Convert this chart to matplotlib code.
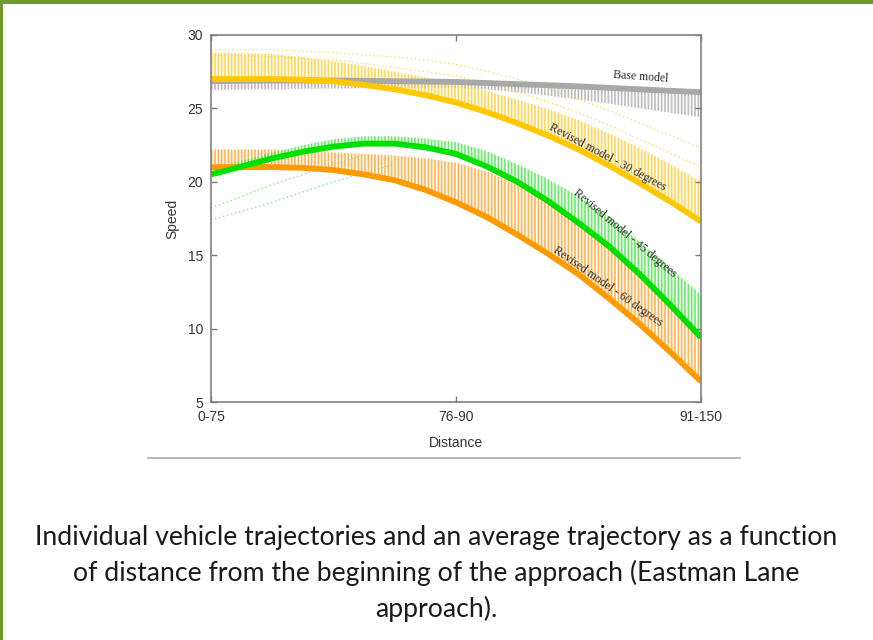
import numpy as np
import matplotlib
matplotlib.use('Agg')
import matplotlib.pyplot as plt
from matplotlib.lines import Line2D
from matplotlib.patches import Rectangle

# distance classes on the x axis and sample positions along them
dist_labels = ['0-75', '76-90', '91-150']
xs = np.array([0, 0.125, 0.25, 0.375, 0.5, 0.625, 0.75, 0.875, 1.0,
               1.125, 1.25, 1.375, 1.5, 1.625, 1.75, 1.875, 2.0])

# average trajectories (speed)
base_mean = np.array([26.85, 26.88, 26.9, 26.9, 26.9, 26.88, 26.85, 26.83, 26.8,
                      26.73, 26.65, 26.58, 26.5, 26.4, 26.3, 26.2, 26.1])
deg30_mean = np.array([27.0, 27.0, 27.0, 26.95, 26.85, 26.6, 26.3, 25.9, 25.4,
                       24.75, 24.0, 23.15, 22.2, 21.1, 19.9, 18.65, 17.3])
deg45_mean = np.array([20.5, 21.05, 21.6, 22.05, 22.4, 22.6, 22.6, 22.35, 21.9,
                       21.05, 20.0, 18.7, 17.2, 15.6, 13.7, 11.6, 9.4])
deg60_mean = np.array([21.0, 21.0, 21.0, 20.95, 20.8, 20.5, 20.1, 19.45, 18.6,
                       17.6, 16.4, 15.1, 13.7, 12.05, 10.3, 8.4, 6.4])

# spread of the individual trajectories (other edge of each band)
base_edge = np.array([26.25, 26.28, 26.3, 26.33, 26.35, 26.38, 26.4, 26.4, 26.4,
                      26.28, 26.1, 25.87, 25.6, 25.32, 25.0, 24.7, 24.4])
deg30_edge = np.array([28.8, 28.75, 28.7, 28.5, 28.2, 27.9, 27.5, 27.1, 26.7,
                       26.2, 25.6, 24.95, 24.2, 23.3, 22.3, 21.2, 20.0])
deg45_edge = np.array([20.9, 21.45, 22.0, 22.5, 22.9, 23.1, 23.1, 22.95, 22.7,
                       22.1, 21.2, 20.2, 19.0, 17.6, 15.9, 14.1, 12.3])
deg60_edge = np.array([22.2, 22.2, 22.2, 22.1, 22.0, 21.9, 21.8, 21.6, 21.3,
                       20.7, 19.8, 18.7, 17.4, 15.7, 13.9, 11.9, 9.8])

# a few stray single trajectories (dotted); nan where they sink into a band
nan = np.nan
deg30_out1 = np.array([29.0, 29.0, 29.0, 28.9, 28.8, 28.65, 28.5, 28.3, 28.0,
                       27.55, 27.0, 26.35, 25.6, 24.85, 24.0, 23.15, 22.3])
deg30_out2 = np.array([28.6, 28.6, 28.5, 28.4, 28.3, 28.05, 27.8, 27.5, 27.2,
                       26.7, 26.1, 25.45, 24.7, 23.85, 22.9, 21.95, 21.0])
deg45_out1 = np.array([17.4, 18.0, 18.6, 19.3, 20.0, 20.6, 21.2, nan, nan,
                       nan, nan, nan, nan, nan, nan, nan, nan])
deg45_out2 = np.array([18.2, 19.0, 19.8, 20.5, 21.2, 21.8, nan, nan, nan,
                       nan, nan, nan, nan, nan, nan, nan, nan])

series = [
    ('Base model', base_mean, base_edge, '#a8a8a8', '#b0b0b0'),
    ('Revised model - 30 degrees', deg30_mean, deg30_edge, '#ffc800', '#ffcf3a'),
    ('Revised model - 60 degrees', deg60_mean, deg60_edge, '#ff9a00', '#ffa733'),
    ('Revised model - 45 degrees', deg45_mean, deg45_edge, '#00e000', '#4ee84e'),
]

plt.rcParams['hatch.linewidth'] = 1.2
plt.rcParams['font.family'] = ['Liberation Sans', 'DejaVu Sans']

fig = plt.figure(figsize=(8.73, 6.4), dpi=100)
ax = fig.add_axes([211 / 873, 1 - 402 / 640, 490 / 873, 367 / 640])

for name, mean, edge, col, hcol in series:
    ax.fill_between(xs, mean, edge, facecolor='none', edgecolor=hcol,
                    hatch='|||||', linewidth=0, alpha=0.85)

for out, col in [(deg30_out1, '#ffd24a'), (deg30_out2, '#ffd24a'),
                 (deg45_out1, '#66e866'), (deg45_out2, '#66e866')]:
    ax.plot(xs, out, color=col, lw=1.0, ls=(0, (1, 2)), alpha=0.8)

for name, mean, edge, col, hcol in series:
    ax.plot(xs, mean, color=col, lw=4.2, solid_capstyle='butt',
            solid_joinstyle='round')

lab_kw = dict(family='Liberation Serif', fontsize=8.5, color='#2a2a2a',
              ha='center', va='center', rotation_mode='anchor')
ax.text(1.755, 27.15, 'Base model', rotation=-4, **lab_kw)
ax.text(1.62, 21.7, 'Revised model - 30 degrees', rotation=-28, **lab_kw)
ax.text(1.69, 16.5, 'Revised model - 45 degrees', rotation=-40, **lab_kw)
ax.text(1.62, 12.9, 'Revised model - 60 degrees', rotation=-35, **lab_kw)

ax.set_xlim(0, 2)
ax.set_ylim(5, 30)
ax.set_xticks([0, 1, 2])
ax.set_xticklabels(dist_labels)
ax.set_yticks([5, 10, 15, 20, 25, 30])
ax.tick_params(direction='in', length=4, width=1, color='#777777',
               labelsize=10, labelcolor='#333333', top=True, right=True)
ax.tick_params(axis='y', pad=5.8)
ax.tick_params(axis='x', pad=6)
for sp in ax.spines.values():
    sp.set_color('#808080')
    sp.set_linewidth(1.2)

ax.set_xlabel('Distance', fontsize=10, color='#333333')
ax.xaxis.set_label_coords(0.5, -0.112)
ax.xaxis.label.set_va('center')
ax.set_ylabel('Speed', fontsize=10, color='#333333')
ax.yaxis.set_label_coords(-0.0796, 0.5)
ax.yaxis.label.set_va('center')

# page furniture: separator rule, green border, caption
fig.add_artist(Line2D([148 / 873, 740 / 873], [1 - 458 / 640] * 2,
                      color='#b0b0b0', lw=1.3))
fig.add_artist(Rectangle((0, 1 - 4 / 640), 1, 4 / 640, color='#6f9a2a', lw=0))
fig.add_artist(Rectangle((0, 0), 2.5 / 873, 1, color='#6f9a2a', lw=0))

caption = ['Individual vehicle trajectories and an average trajectory as a function',
           'of distance from the beginning of the approach (Eastman Lane',
           'approach).']
for i, line in enumerate(caption):
    fig.text(436 / 873, 1 - (537 + 36 * i) / 640, line, ha='center', va='center',
             family='Lato', fontsize=19.2, color='#1a1a1a')

fig.savefig('out.png', dpi=100)
